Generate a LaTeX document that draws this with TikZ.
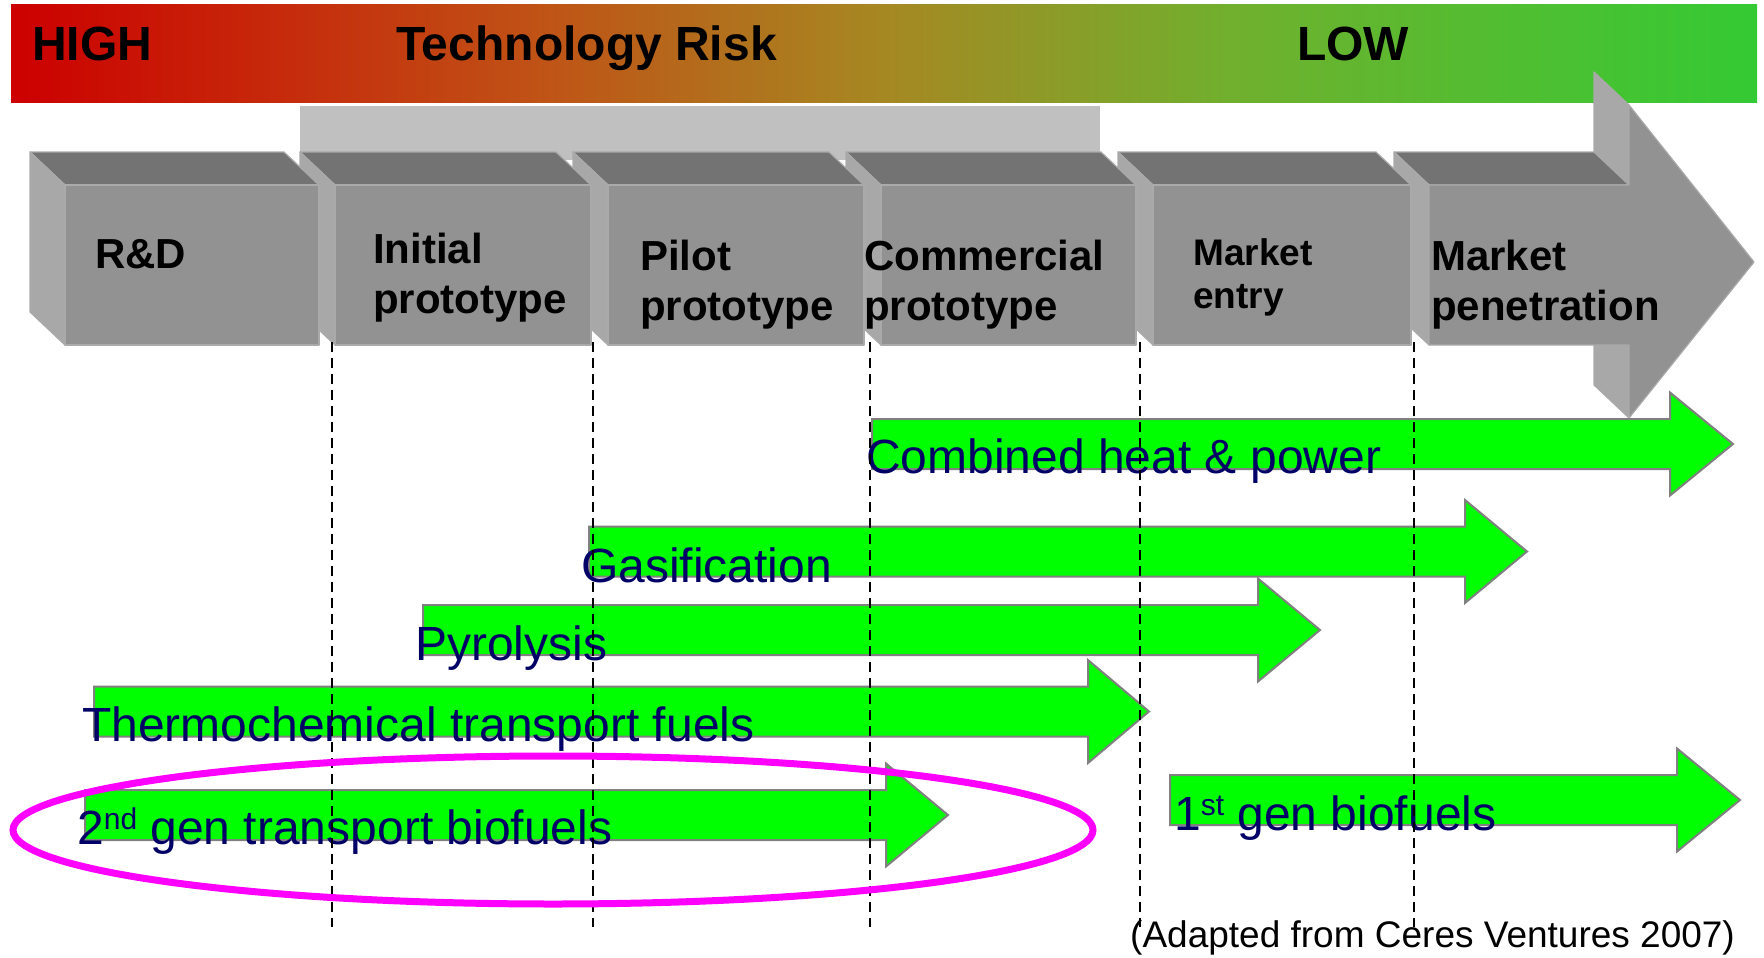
\documentclass[tikz,border=0pt]{standalone}
\usepackage{fontspec}
\setmainfont{Liberation Sans}
\usetikzlibrary{calc}

% palette
\definecolor{riskA}{RGB}{204,0,0}
\definecolor{riskB}{RGB}{192,82,22}
\definecolor{riskC}{RGB}{166,136,34}
\definecolor{riskD}{RGB}{112,176,46}
\definecolor{riskE}{RGB}{52,202,52}
\definecolor{bandgray}{RGB}{192,192,192}
\definecolor{cubeTop}{RGB}{115,115,115}
\definecolor{cubeFront}{RGB}{146,146,146}
\definecolor{cubeSide}{RGB}{168,168,168}
\definecolor{cubeEdge}{RGB}{170,170,170}
\definecolor{procgreen}{RGB}{0,255,0}
\definecolor{procedge}{RGB}{128,128,128}
\definecolor{navytext}{RGB}{0,0,102}
\definecolor{ringpink}{RGB}{255,0,255}

% red -> amber -> green ramp for the risk band
\pgfdeclarehorizontalshading{riskgrad}{100bp}{%
  color(0bp)=(riskA); color(25bp)=(riskA); color(40bp)=(riskB);
  color(50bp)=(riskC); color(60bp)=(riskD); color(75bp)=(riskE);
  color(100bp)=(riskE)}

\tikzset{
  risktext/.style={font=\bfseries\fontsize{48}{56}\selectfont, anchor=base west, inner sep=0pt},
  stagetext/.style={font=\bfseries\fontsize{42}{50}\selectfont, anchor=base west, inner sep=0pt},
  smallstage/.style={font=\bfseries\fontsize{37}{43}\selectfont, anchor=base west, inner sep=0pt},
  proclabel/.style={font=\fontsize{48}{56}\selectfont, text=navytext, anchor=base west, inner sep=0pt},
  sourcetext/.style={font=\fontsize{37}{44}\selectfont, anchor=base west, inner sep=0pt},
  facetop/.style={fill=cubeTop, draw=cubeEdge, line width=1.2pt, line join=round},
  facefront/.style={fill=cubeFront, draw=cubeEdge, line width=1.2pt, line join=round},
  faceside/.style={fill=cubeSide, draw=cubeEdge, line width=1.2pt, line join=round},
  procarrow/.style={fill=procgreen, draw=procedge, line width=2pt},
  phaseline/.style={draw=black, line width=2pt, dash pattern=on 10pt off 6pt},
  ring/.style={draw=ringpink, line width=7pt},
}

% one stage block: front face left edge #1, front face right edge #2
\newcommand{\stageblock}[2]{%
  \filldraw[facetop] (#1-35,152) -- (#2-35,152) -- (#2,185) -- (#1,185) -- cycle;
  \filldraw[faceside] (#1-35,152) -- (#1,185) -- (#1,345) -- (#1-35,312) -- cycle;
  \filldraw[facefront] (#1,185) rectangle (#2,345);
}

% green process arrow: start #1, centre line #2, head base #3, tip #4
\newcommand{\procshape}[4]{%
  \filldraw[procarrow] (#1,#2-25) -- (#3,#2-25) -- (#3,#2-51.5) -- (#4,#2)
    -- (#3,#2+51.5) -- (#3,#2+25) -- (#1,#2+25) -- cycle;
}

\begin{document}
\begin{tikzpicture}[x=1pt,y=-1pt]
\useasboundingbox (0,0) rectangle (1764,958);

% risk band
\shade[shading=riskgrad] (11,5) rectangle (1757,102);
\node[risktext] (high) at (32,61) {HIGH};
\node[risktext] (risk) at (396,61) {Technology Risk};
\node[risktext] (low) at (1297,61) {LOW};

% grey band over the prototype stages
\fill[bandgray] (300,106) rectangle (1100,160);

% final stage: block arrow
\filldraw[faceside] (1594,72) -- (1629,105) -- (1629,418) -- (1594,385) -- cycle;
\filldraw[facetop] (1394,152) -- (1594,152) -- (1629,185) -- (1429,185) -- cycle;
\filldraw[faceside] (1394,152) -- (1429,185) -- (1429,345) -- (1394,312) -- cycle;
\filldraw[facefront] (1429,185) -- (1629,185) -- (1629,105) -- (1754,262)
  -- (1629,418) -- (1629,345) -- (1429,345) -- cycle;

% stage blocks, drawn back to front
\stageblock{1153}{1411}
\stageblock{881}{1136}
\stageblock{608}{864}
\stageblock{335}{591}
\stageblock{65}{319}

% stage names
\node[stagetext] (rd) at (95,268) {R\&D};
\node[stagetext] (ini1) at (373,263) {Initial};
\node[stagetext] (ini2) at (373,313) {prototype};
\node[stagetext] (pil1) at (640,270) {Pilot};
\node[stagetext] (pil2) at (640,320) {prototype};
\node[stagetext] (com1) at (864,270) {Commercial};
\node[stagetext] (com2) at (864,320) {prototype};
\node[smallstage] (ent1) at (1193,265) {Market};
\node[smallstage] (ent2) at (1193,308) {entry};
\node[stagetext] (pen1) at (1431,270) {Market};
\node[stagetext] (pen2) at (1431,320) {penetration};

% process arrows
\procshape{872}{444}{1670}{1733}
\procshape{589}{551.5}{1465}{1527}
\procshape{423}{630}{1258}{1320}
\procshape{94}{711.5}{1088}{1149}
\procshape{85}{815}{886}{948}
\procshape{1170}{800}{1677}{1740}

\node[proclabel] (chp) at (866,473) {Combined heat \& power};
\node[proclabel] (gas) at (581,582) {Gasification};
\node[proclabel] (pyr) at (415,660) {Pyrolysis};
\node[proclabel] (thermo) at (82,741) {Thermochemical transport fuels};
\node[proclabel] (second) at (77,844)
  {2\raisebox{15pt}{\fontsize{30}{30}\selectfont nd} gen transport biofuels};
\node[proclabel] (first) at (1174,830)
  {1\raisebox{15pt}{\fontsize{30}{30}\selectfont st} gen biofuels};

% stage boundaries
\foreach \i/\x in {1/332,2/593,3/870,4/1140,5/1414}{
  \coordinate (b\i top) at (\x,342);
  \coordinate (b\i bot) at (\x,927);
  \draw[phaseline] (b\i top) -- (b\i bot);
}

% highlight ring
\draw[ring] (553,830) ellipse [x radius=540pt, y radius=74pt];

% source
\node[sourcetext] (source) at (1130,947) {(Adapted from Ceres Ventures 2007)};
\end{tikzpicture}
\end{document}
